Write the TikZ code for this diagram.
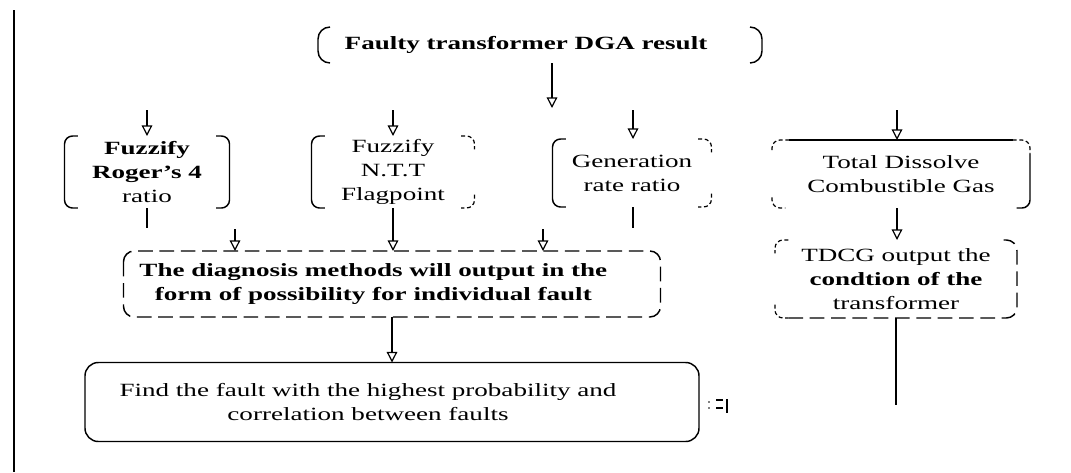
\documentclass[tikz,border=0pt]{standalone}
\usepackage{fontspec}
\setmainfont{Liberation Serif}[FakeStretch=1.45]
\usetikzlibrary{arrows.meta,calc}
\begin{document}
\begin{tikzpicture}[x=0.75pt,y=-0.75pt,
 every node/.style={inner sep=0pt, outer sep=0pt},
 box/.style 2 args={align=center, minimum width={#1*0.75pt}, minimum height={#2*0.75pt}, font=\fontsize{14pt}{18pt}\selectfont},
 ln/.style={line width=1.1pt},
 arr/.style={line width=1.1pt, -{Triangle[open, length=8pt, width=8pt, line width=0.9pt]}},
 brk/.style={line width=1.1pt, rounded corners=6pt},
 stub/.style={line width=0.9pt, densely dashed, rounded corners=6pt},
 dsh/.style={line width=1.1pt, dash pattern=on 11pt off 5pt, rounded corners=8pt},
]
\useasboundingbox (0,0) rectangle (1071,472);
\draw[line width=1.5pt] (14,10) -- (14,472);

% nodes
\node[box={444}{36}] (top) at (540,45) {\textbf{Faulty transformer DGA result}\hspace*{21pt}};
\node[box={165}{72}] (r1) at (147,172) {\textbf{Fuzzify}\\\textbf{Roger’s 4}\\ratio};
\node[box={163}{72}] (r2) at (393,172) {Fuzzify\\N.T.T\\Flagpoint};
\node[box={159}{68}] (r3) at (632,173) {Generation\\rate ratio};
\node[box={258}{68}] (r4) at (901,174) {Total Dissolve\\Combustible Gas};
\node[box={537}{66}] (diag) at (392,284) {\textbf{The diagnosis methods will output in the}\hspace*{28pt}\\\textbf{form of possibility for individual fault}\hspace*{28pt}};
\node[box={614}{79}] (find) at (392,402) {Find the fault with the highest probability and\hspace*{36pt}\\correlation between faults\hspace*{36pt}};
\node[box={242}{78}] (tdcg) at (896,279) {TDCG output the\\\textbf{condtion of the}\\transformer};

% outlines
\draw[brk, rounded corners=9pt] ([xshift=9pt]top.north west) -- (top.north west) -- (top.south west) -- ([xshift=9pt]top.south west);
\draw[brk, rounded corners=9pt] ([xshift=-9pt]top.north east) -- (top.north east) -- (top.south east) -- ([xshift=-9pt]top.south east);

\draw[brk] ([xshift=10pt]r1.north west) -- (r1.north west) -- (r1.south west) -- ([xshift=10pt]r1.south west);
\draw[brk] ([xshift=-10pt]r1.north east) -- (r1.north east) -- (r1.south east) -- ([xshift=-10pt]r1.south east);

\draw[brk] ([xshift=10pt]r2.north west) -- (r2.north west) -- (r2.south west) -- ([xshift=10pt]r2.south west);
\draw[stub] ([xshift=-10pt]r2.north east) -- (r2.north east) -- ([yshift=-10pt]r2.north east);
\draw[stub] ([yshift=10pt]r2.south east) -- (r2.south east) -- ([xshift=-10pt]r2.south east);

\draw[brk] ([xshift=10pt]r3.north west) -- (r3.north west) -- (r3.south west) -- ([xshift=10pt]r3.south west);
\draw[stub] ([xshift=-10pt]r3.north east) -- (r3.north east) -- ([yshift=-10pt]r3.north east);
\draw[stub] ([yshift=10pt]r3.south east) -- (r3.south east) -- ([xshift=-10pt]r3.south east);

\draw[stub] ([xshift=13pt]r4.north west) -- (r4.north west) -- ([yshift=-8pt]r4.north west);
\draw[brk] ([xshift=13pt]r4.north west) -- ([xshift=-13pt]r4.north east);
\draw[stub] ([xshift=-13pt]r4.north east) -- (r4.north east) -- ([yshift=-10pt]r4.north east);
\draw[brk] ([yshift=-10pt]r4.north east) -- (r4.south east) -- ([xshift=-10pt]r4.south east);
\draw[stub] ([yshift=8pt]r4.south west) -- (r4.south west) -- ([xshift=10pt]r4.south west);

\draw[dsh] (diag.north west) rectangle (diag.south east);
\draw[line width=1.1pt, rounded corners=10pt] (find.north west) rectangle (find.south east);

\draw[stub] ([xshift=10pt]tdcg.north west) -- (tdcg.north west) -- ([yshift=-10pt]tdcg.north west);
\draw[stub] ([yshift=10pt]tdcg.south west) -- (tdcg.south west) -- ([xshift=10pt]tdcg.south west);
\draw[dsh] ([xshift=10pt]tdcg.south west) -- (tdcg.south east) -- (tdcg.north east) -- ([xshift=-10pt]tdcg.north east);

% free ends
\coordinate (c0) at (552,108);
\coordinate (s1) at (147,110);
\coordinate (s2) at (393,110);
\coordinate (s3) at (633,110);
\coordinate (s4) at (897,110);
\coordinate (t1) at (147,228);
\coordinate (t3) at (633,228);
\coordinate (u1) at (235,229);
\coordinate (u3) at (543,229);
\coordinate (e4) at (896,405);

% connectors
\draw[arr] (top.south -| c0) -- (c0);
\draw[arr] (s1) -- (s1 |- r1.north);
\draw[arr] (s2) -- (s2 |- r2.north);
\draw[arr] (s3) -- (s3 |- r3.north);
\draw[arr] (s4) -- (s4 |- r4.north);
\draw[ln] (r1.south -| t1) -- (t1);
\draw[ln] (r3.south -| t3) -- (t3);
\draw[arr] (r2.south) -- (r2.south |- diag.north);
\draw[arr] (u1) -- (u1 |- diag.north);
\draw[arr] (u3) -- (u3 |- diag.north);
\draw[arr] (diag.south) -- (diag.south |- find.north);
\draw[arr] (r4.south -| s4) -- (s4 |- tdcg.north);
\draw[ln] (tdcg.south -| e4) -- (e4);

% small marks right of the bottom box
\fill (709,402) circle (0.9);
\fill (709,408) circle (0.9);
\draw[line width=1pt] (716,400) -- (723,400) (716,408) -- (723,408);
\draw[line width=1.2pt] (727,399) -- (727,413);
\end{tikzpicture}
\end{document}
